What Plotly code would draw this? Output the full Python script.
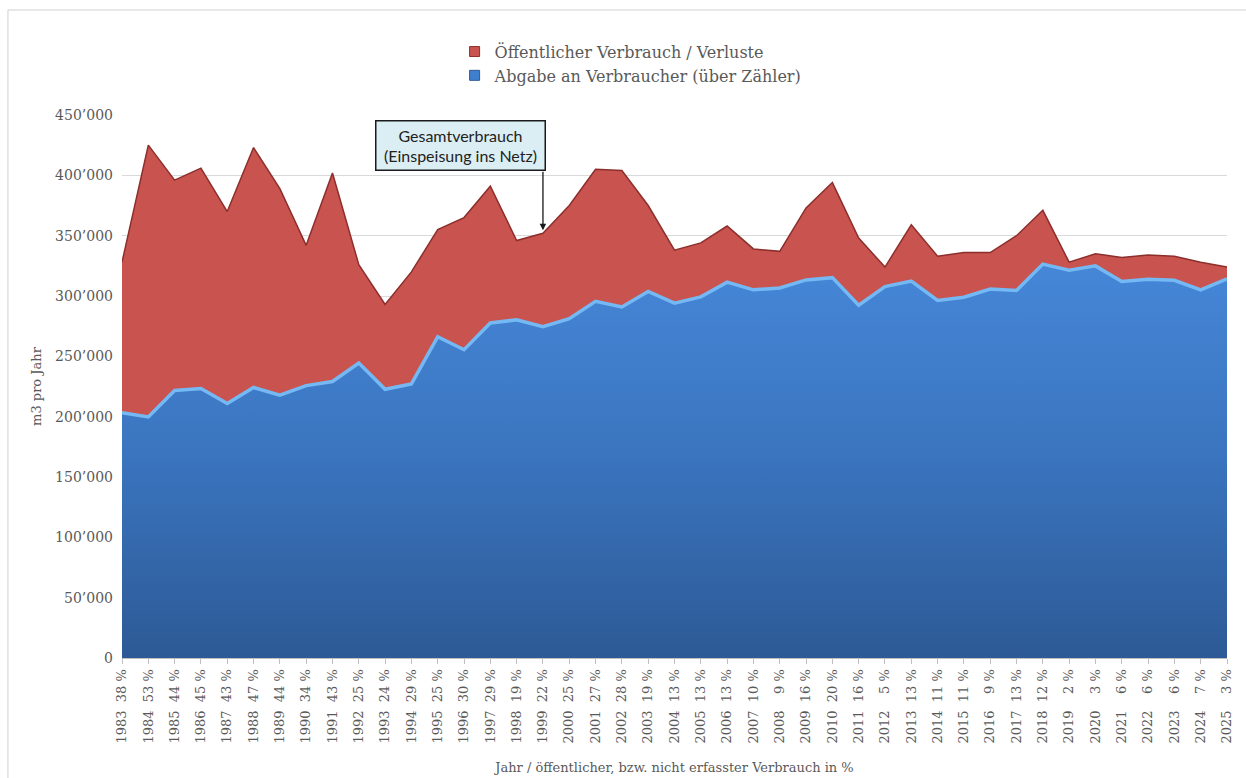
import plotly.graph_objects as go

# Jahre und Werte (m3 pro Jahr)
jahre = list(range(1983, 2026))

# Gesamtverbrauch = Einspeisung ins Netz
gesamt = [328000, 425000, 396000, 406000, 370000, 423000, 389000, 342000, 402000, 326000,
          293000, 320000, 355000, 365000, 391000, 346000, 352000, 375000, 405000, 404000,
          375000, 338000, 344000, 358000, 339000, 337000, 373000, 394000, 348000, 324000,
          359000, 333000, 336000, 336000, 350000, 371000, 328000, 335000, 332000, 334000,
          333000, 328000, 324000]

# Anteil öffentlicher bzw. nicht erfasster Verbrauch in %
verlust_pct = [38, 53, 44, 45, 43, 47, 44, 34, 43, 25,
               24, 29, 25, 30, 29, 19, 22, 25, 27, 28,
               19, 13, 13, 13, 10, 9, 16, 20, 16, 5,
               13, 11, 11, 9, 13, 12, 2, 3, 6, 6,
               6, 7, 3]

y_ticks = [0, 50000, 100000, 150000, 200000, 250000, 300000, 350000, 400000, 450000]

# Abgabe über Zähler und Differenz zum Gesamtverbrauch
abgabe = [g * (100 - p) / 100 for g, p in zip(gesamt, verlust_pct)]
verluste = [g - a for g, a in zip(gesamt, abgabe)]


def pct_label(jahr, p):
    pad = "\u2007" if p < 10 else ""
    return f"{jahr}\u00a0\u00a0{pad}{p}\u00a0%"


x_ticktext = [pct_label(j, p) for j, p in zip(jahre, verlust_pct)]
y_ticktext = ["0"] + [f"{v // 1000}\u2019000" for v in y_ticks[1:]]

SERIF = "DejaVu Serif"
GRAU = "#595959"

fig = go.Figure()

# Abgabe an Verbraucher (blaue Fläche, vertikaler Verlauf)
fig.add_trace(go.Scatter(
    x=jahre, y=abgabe, mode="lines", fill="tozeroy",
    line=dict(color="#3f7fd0", width=0),
    fillgradient=dict(type="vertical", start=0, stop=330000,
                      colorscale=[[0, "#2d5a96"], [0.5, "#3a74be"], [1, "#4687d8"]]),
    showlegend=False, hoverinfo="skip"))

# Öffentlicher Verbrauch / Verluste (rote Fläche bis zum Gesamtverbrauch)
fig.add_trace(go.Scatter(
    x=jahre, y=gesamt, mode="lines", fill="tonexty",
    fillcolor="#c9534f", line=dict(color="#c9534f", width=0),
    customdata=verluste, showlegend=False, hoverinfo="skip"))

# Kanten der Flächen
fig.add_trace(go.Scatter(
    x=jahre, y=abgabe, mode="lines",
    line=dict(color="#74b9f4", width=3.5), showlegend=False, hoverinfo="skip"))
fig.add_trace(go.Scatter(
    x=jahre, y=gesamt, mode="lines",
    line=dict(color="#8c2f2c", width=1.5), showlegend=False, hoverinfo="skip"))

# Legendeneinträge
fig.add_trace(go.Scatter(
    x=[None], y=[None], mode="markers", name="Öffentlicher Verbrauch / Verluste",
    marker=dict(symbol="square", size=10, color="#c9534f", line=dict(color="#8c2f2c", width=1))))
fig.add_trace(go.Scatter(
    x=[None], y=[None], mode="markers", name="Abgabe an Verbraucher (über Zähler)",
    marker=dict(symbol="square", size=10, color="#3f7fd0", line=dict(color="#2d5a96", width=1))))

# Beschriftung Gesamtverbrauch mit Pfeil
fig.add_annotation(
    x=1995.85, y=425000, xref="x", yref="y",
    text="Gesamtverbrauch<br>(Einspeisung ins Netz)", showarrow=False,
    font=dict(family="Lato", size=16, color="#222222"),
    bgcolor="#daeef3", bordercolor="#1a1a1a", borderwidth=1.5, borderpad=1,
    width=166, height=46, align="center")
fig.add_annotation(
    x=1999, y=gesamt[jahre.index(1999)] + 2500, xref="x", yref="y",
    text="", showarrow=True, arrowhead=2, arrowsize=1, arrowwidth=1.3,
    arrowcolor="#1a1a1a", ax=0, ay=-60, axref="pixel", ayref="pixel")

# Rahmen um die Grafik
fig.add_shape(type="rect", xref="paper", yref="paper",
              x0=-0.1032, x1=1.05, y0=-0.3, y1=1.1934,
              line=dict(color="#d0d0d0", width=1), fillcolor="rgba(0,0,0,0)", layer="below")

fig.update_layout(
    width=1246, height=778,
    margin=dict(l=122, r=19, t=115, b=120, autoexpand=False),
    paper_bgcolor="white", plot_bgcolor="white",
    font=dict(family=SERIF, color=GRAU),
    legend=dict(x=0.301, y=1.148, xanchor="left", yanchor="top",
                traceorder="normal",
                font=dict(family=SERIF, size=16, color=GRAU),
                bgcolor="rgba(0,0,0,0)", tracegroupgap=0),
    xaxis=dict(
        range=[1983, 2025], tickmode="array", tickvals=jahre, ticktext=x_ticktext,
        tickangle=-90, tickfont=dict(family=SERIF, size=13, color=GRAU),
        ticks="outside", ticklen=5, tickcolor="#bfbfbf",
        showline=True, linecolor="#bfbfbf", linewidth=1,
        showgrid=False, zeroline=False,
        title=dict(text="Jahr / öffentlicher, bzw. nicht erfasster Verbrauch in %",
                   font=dict(family=SERIF, size=13, color=GRAU), standoff=20)),
    yaxis=dict(
        range=[0, 450000], tickmode="array", tickvals=y_ticks, ticktext=y_ticktext,
        tickfont=dict(family=SERIF, size=14, color=GRAU),
        showgrid=True, gridcolor="#d9d9d9", gridwidth=1, zeroline=False,
        ticks="", ticklabelstandoff=8,
        title=dict(text="m3 pro Jahr", font=dict(family=SERIF, size=13, color=GRAU), standoff=10)),
)

fig.write_html("out.html")
